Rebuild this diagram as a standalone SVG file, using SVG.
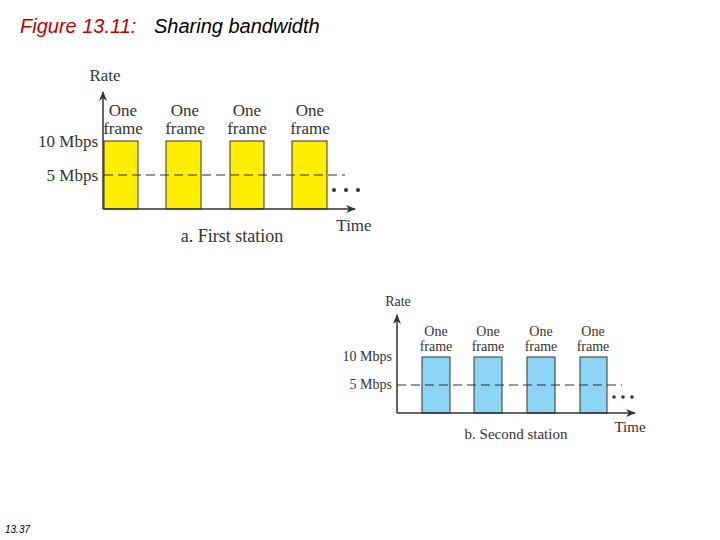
<svg xmlns="http://www.w3.org/2000/svg" width="720" height="540" viewBox="0 0 720 540">
<style>
.t{font-family:"Liberation Serif",serif;fill:#333}
.ax{stroke:#333;stroke-width:1.5;fill:none}
.d{stroke:#333;stroke-width:1.2;stroke-dasharray:9,5}
.y{fill:#ffee00;stroke:#333;stroke-width:1}
.b{fill:#8dd5f5;stroke:#333;stroke-width:1}
</style>
<defs><marker id="a" markerWidth="10" markerHeight="8" refX="9" refY="4" orient="auto" markerUnits="userSpaceOnUse"><path d="M0,0L10,4L0,8L3,4z" fill="#333"/></marker></defs>
<rect width="720" height="540" fill="#fff"/>
<text x="20" y="33" font-family="Liberation Sans,Arial,sans-serif" font-size="20" font-style="italic"><tspan fill="#c00000">Figure 13.11:</tspan><tspan x="154" fill="#000">Sharing bandwidth</tspan></text>
<text x="5" y="533" font-family="Liberation Sans,Arial,sans-serif" font-size="10" font-style="italic" fill="#000">13.37</text>
<g id="chartA">
<rect class="y" x="104" y="141" width="34" height="68"/>
<rect class="y" x="166" y="141" width="35" height="68"/>
<rect class="y" x="230" y="141" width="34" height="68"/>
<rect class="y" x="292" y="141" width="35" height="68"/>
<line class="d" x1="104" y1="175" x2="345" y2="175"/>
<path class="ax" d="M103,209V92" marker-end="url(#a)"/>
<path class="ax" d="M103,209H355" marker-end="url(#a)"/>
<g fill="#333"><circle cx="334" cy="190" r="2"/><circle cx="346" cy="190" r="2"/><circle cx="358" cy="190" r="2"/></g>
<g class="t" font-size="17" text-anchor="middle">
<text x="105" y="81">Rate</text>
<text x="123" y="116">One</text><text x="123" y="134">frame</text>
<text x="185" y="116">One</text><text x="185" y="134">frame</text>
<text x="247" y="116">One</text><text x="247" y="134">frame</text>
<text x="310" y="116">One</text><text x="310" y="134">frame</text>
<text x="354" y="231">Time</text>
<text x="232" y="242" font-size="18">a. First station</text>
</g>
<g class="t" font-size="17" text-anchor="end"><text x="98" y="147">10 Mbps</text><text x="98" y="181">5 Mbps</text></g>
</g>
<g id="chartB">
<rect class="b" x="422" y="357" width="28" height="56"/>
<rect class="b" x="474" y="357" width="28" height="56"/>
<rect class="b" x="527" y="357" width="28" height="56"/>
<rect class="b" x="580" y="357" width="27" height="56"/>
<line class="d" x1="397" y1="385" x2="622" y2="385"/>
<path class="ax" d="M397,413V315" marker-end="url(#a)"/>
<path class="ax" d="M397,413H635" marker-end="url(#a)"/>
<g fill="#333"><circle cx="614" cy="397" r="1.8"/><circle cx="623" cy="397" r="1.8"/><circle cx="632" cy="397" r="1.8"/></g>
<g class="t" font-size="14" text-anchor="middle">
<text x="398" y="306">Rate</text>
<text x="436" y="336">One</text><text x="436" y="351">frame</text>
<text x="488" y="336">One</text><text x="488" y="351">frame</text>
<text x="541" y="336">One</text><text x="541" y="351">frame</text>
<text x="593" y="336">One</text><text x="593" y="351">frame</text>
<text x="630" y="432" font-size="15">Time</text>
<text x="516" y="439" font-size="15">b. Second station</text>
</g>
<g class="t" font-size="14" text-anchor="end"><text x="392" y="361">10 Mbps</text><text x="392" y="389">5 Mbps</text></g>
</g>
</svg>
